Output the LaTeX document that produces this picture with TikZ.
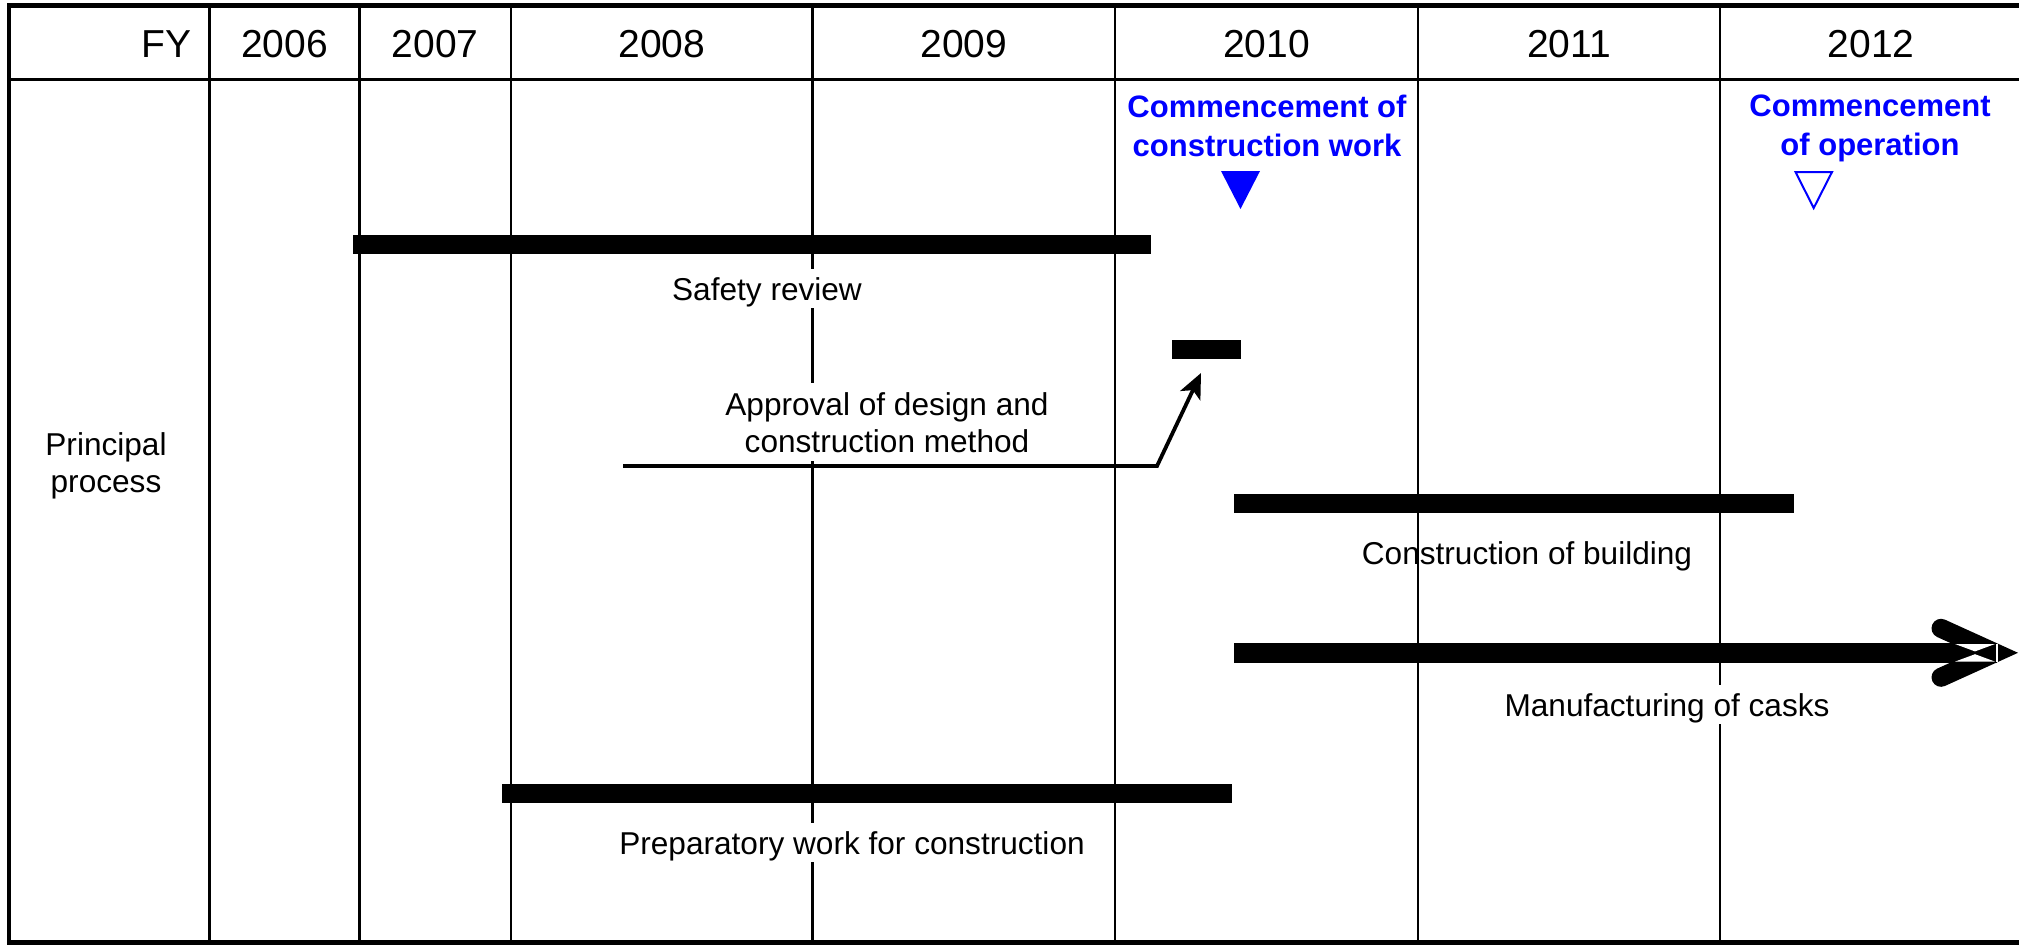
\documentclass[tikz,border=0pt]{standalone}
\usepackage{fontspec}
\setmainfont{Liberation Sans}
\usetikzlibrary{arrows.meta}
\definecolor{markblue}{RGB}{0,0,255}

\begin{document}
\begin{tikzpicture}[x=1pt,y=-1pt,
  grid/.style={line width=2.7pt},
  frame/.style={line width=4.5pt},
  head/.style={font=\fontsize{39}{45}\selectfont, inner sep=0pt, anchor=base},
  lbl/.style={font=\fontsize{31.6}{37}\selectfont, inner sep=0pt},
  masklbl/.style={lbl, fill=white, anchor=base, text height=31pt, text depth=8pt, inner xsep=3pt},
  multilbl/.style={lbl, align=center, anchor=north},
  milestone/.style={font=\bfseries\fontsize{31}{39}\selectfont, text=markblue, align=center, anchor=north, inner sep=0pt},
  bar/.style={fill=black, draw=none, inner sep=0pt, minimum height=19.5pt, anchor=west},
  pointer/.style={line width=3.8pt, line join=miter, -{Stealth[length=25pt,width=22pt,inset=6pt]}},
]
\useasboundingbox (0,0) rectangle (2019,945);

% table frame, header rule and year columns
\draw[frame] (2040,5.3) -- (9,5.3) -- (9,942.5) -- (2040,942.5);
\draw[grid] (9,79.5) -- (2040,79.5);
\foreach \cx in {209.5,359.5,511,812.5,1115,1418,1720}
  \draw[grid] (\cx,5.3) -- (\cx,942.5);

% header row
\node[head, anchor=base east] (fy) at (192,57.3) {FY};
\node[head] (y2006) at (284.5,57.3) {2006};
\node[head] (y2007) at (435.25,57.3) {2007};
\node[head] (y2008) at (661.75,57.3) {2008};
\node[head] (y2009) at (963.75,57.3) {2009};
\node[head] (y2010) at (1266.5,57.3) {2010};
\node[head] (y2011) at (1569,57.3) {2011};
\node[head] (y2012) at (1871,57.3) {2012};

% row title
\node[multilbl] (principal) at (106,432) {Principal\\process};

% milestones
\node[milestone] (startwork) at (1267,94.5) {Commencement of\\construction work};
\node[milestone] (startop) at (1870,94.5) {Commencement\\of operation};
\fill[markblue] (1221,171) -- (1260,171) -- (1240.5,209) -- cycle;
\draw[markblue, line width=2pt, line join=miter] (1795.5,172) -- (1832,172) -- (1813.7,208) -- cycle;

% task labels
\node[masklbl] (safety) at (767,300) {Safety review};
\node[multilbl, fill=white, inner ysep=9pt, inner xsep=3pt] (approval) at (887,383)
  {Approval of design and\\construction method};
\node[lbl, anchor=base] (building) at (1527,564) {Construction of building};
\node[masklbl] (casks) at (1667,716) {Manufacturing of casks};
\node[masklbl] (prep) at (852,854) {Preparatory work for construction};

% schedule bars
\node[bar, minimum width=798pt] (safetybar) at (353,244.5) {};
\node[bar, minimum width=69pt] (approvalbar) at (1172,349.5) {};
\node[bar, minimum width=560pt] (buildingbar) at (1233.5,503.5) {};
\node[bar, minimum width=763.5pt] (caskbar) at (1233.5,652.8) {};
\node[bar, minimum width=730pt] (prepbar) at (502,793.3) {};

% pointer from the approval label to its bar
\coordinate (apstart) at (623,466);
\coordinate (apbend) at (1157,466);
\coordinate (aptip) at (1201,373);
\draw[pointer] (apstart) -- (apbend) -- (aptip);

% open arrowhead closing the cask bar
\draw[line width=19pt, line cap=round, line join=miter]
  (1941,628.3) -- (1995,652.8) -- (1941,677.3);
\fill[white] (1955,644) -- (1995,644) -- (1975,651.4) -- cycle;
\fill[white] (1955,661.6) -- (1995,661.6) -- (1975,654.2) -- cycle;
\draw[white, line width=1.5pt] (1997,644) -- (1997,661.6);
\end{tikzpicture}
\end{document}
